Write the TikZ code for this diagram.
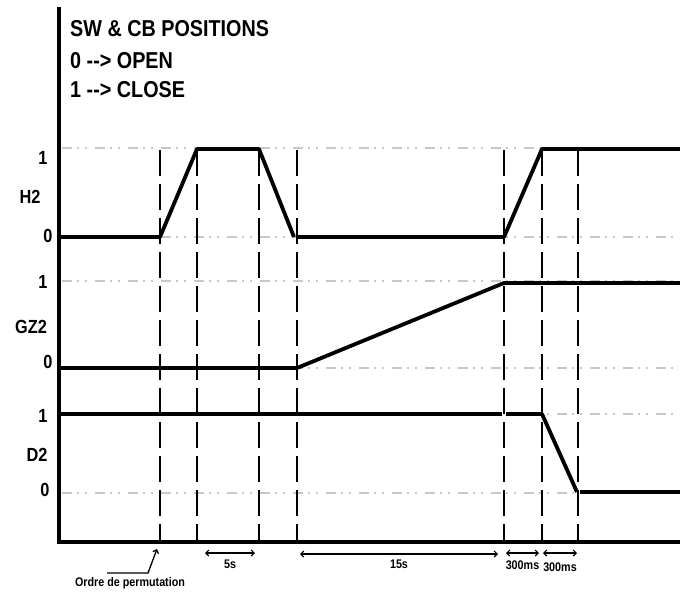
\documentclass[tikz,border=0pt]{standalone}
\usepackage{fontspec}
\setmainfont{Liberation Sans}[FakeStretch=0.86]
\usepackage{xcolor}
\usetikzlibrary{arrows.meta,positioning}

\begin{document}
\begin{tikzpicture}[
    x=1pt, y=-1pt, >=Stealth,
    axis/.style={line width=3.8pt},
    sig/.style={line width=3.8pt, line join=round},
    guide/.style={black!22, line width=1.6pt, dash pattern=on 10pt off 5pt on 2pt off 6pt on 2pt off 8pt},
    cut/.style={black, line width=1.4pt, dash pattern=on 26pt off 8pt},
    lvl/.style={font=\bfseries\fontsize{19}{19}\selectfont, inner sep=0pt},
    title/.style={font=\bfseries\fontsize{23}{23}\selectfont, anchor=west, inner sep=0pt},
    small/.style={font=\bfseries\fontsize{12.5}{12.5}\selectfont, inner sep=0pt},
    dim/.style={{Straight Barb[length=3pt,width=6pt]}-{Straight Barb[length=3pt,width=6pt]}, line width=1.1pt}
  ]
  \useasboundingbox (0,0) rectangle (680,595);

  % legend
  \node[title] (head) at (70,29) {SW \& CB POSITIONS};
  \node[title] (open) at (70,61) {0 -\kern0pt-\kern0pt> OPEN};
  \node[title] (close) at (70,90) {1 -\kern0pt-\kern0pt> CLOSE};

  % level guides
  \foreach \y in {148,237,281,368,414,493}
    \draw[guide] (62,\y) -- (676,\y);

  % level labels
  \node[lvl] (h1) at (43,158) {1};
  \node[lvl] (hname) at (30,197) {H2};
  \node[lvl] (h0) at (48,236) {0};
  \node[lvl] (g1) at (43,282) {1};
  \node[lvl] (gname) at (31,327) {GZ2};
  \node[lvl] (g0) at (48,362) {0};
  \node[lvl] (d1) at (43,416) {1};
  \node[lvl] (dname) at (37,455) {D2};
  \node[lvl] (d0) at (45,490) {0};

  % time marks
  \foreach \t/\x in {a/160, b/197, c/259, d/297, e/504, f/542, g/578} {
    \coordinate (\t top) at (\x,150);
    \coordinate (\t bot) at (\x,541);
    \draw[cut] (\t top) -- (\t bot);
  }

  % H2
  \draw[sig] (59,237) -- (160,237) -- (197,149) -- (259,149) -- (294,237);
  \draw[sig] (298,237) -- (504,237) -- (542,149) -- (680,149);
  % GZ2
  \draw[sig] (59,368) -- (297,368) -- (504,283) -- (680,283);
  % D2
  \draw[sig] (59,414) -- (502,414);
  \draw[sig] (506,414) -- (542,414) -- (577,492);
  \draw[sig] (580,492) -- (680,492);

  % axes
  \draw[axis] (59,7) -- (59,542) -- (680,542);

  % delays
  \draw[dim] (205,553) -- node[small, below=6pt] (t5) {5s} (255,553);
  \draw[dim] (300,554) -- node[small, below=5pt] (t15) {15s} (498,554);
  \draw[dim] (506,553) -- node[small, below=7pt] (t300a) {300ms} (539,553);
  \draw[dim] (543,553) -- node[small, below=9pt] (t300b) {300ms} (577,553);

  % trigger
  \node[small] (ordre) at (130,583) {Ordre de permutation};
  \coordinate (kink) at (148,573);
  \draw[line width=1.3pt, -{Straight Barb[length=3pt,width=6pt]}] (107,573) -- (kink) -- (157,549);
\end{tikzpicture}
\end{document}
